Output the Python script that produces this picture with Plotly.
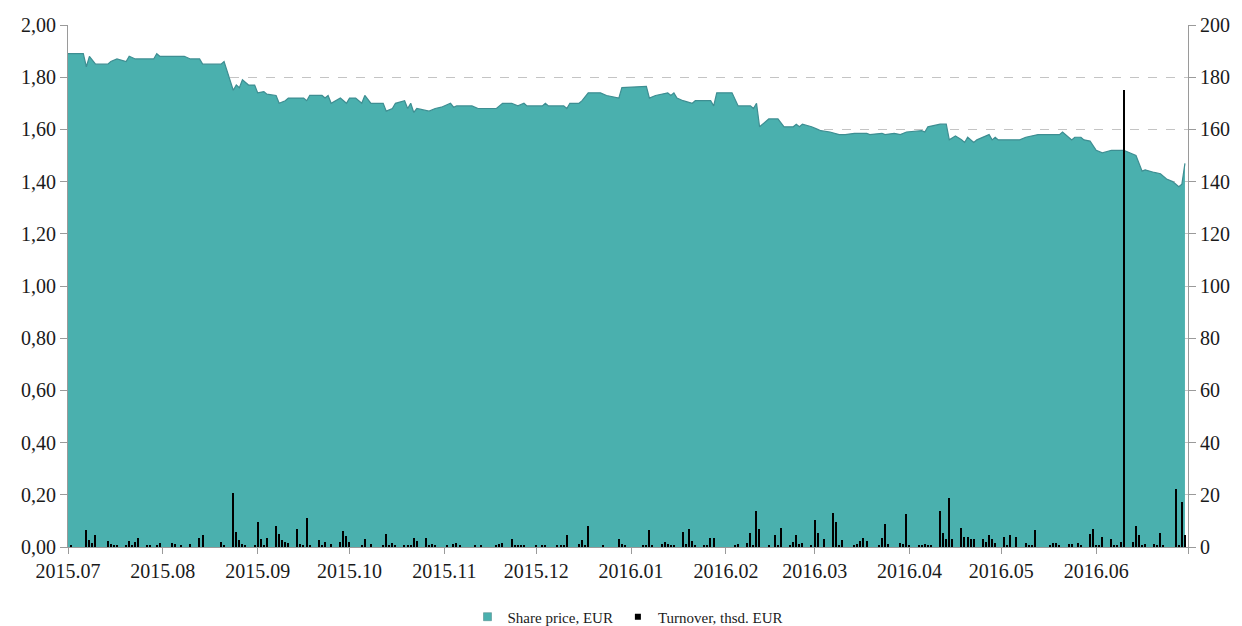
import plotly.graph_objects as go

# ---- Share price (EUR) ----
price_dates = [
    "2015-07-01", "2015-07-06", "2015-07-07", "2015-07-08", "2015-07-10", "2015-07-14", "2015-07-15",
    "2015-07-17", "2015-07-20", "2015-07-21", "2015-07-23", "2015-07-29", "2015-07-30", "2015-07-31",
    "2015-08-08", "2015-08-10", "2015-08-13", "2015-08-14", "2015-08-20", "2015-08-21", "2015-08-24",
    "2015-08-25", "2015-08-26", "2015-08-27", "2015-08-29", "2015-08-31", "2015-09-01", "2015-09-03",
    "2015-09-04", "2015-09-07", "2015-09-08", "2015-09-10", "2015-09-11", "2015-09-16", "2015-09-17",
    "2015-09-18", "2015-09-22", "2015-09-23", "2015-09-24", "2015-09-25", "2015-09-28", "2015-09-30",
    "2015-10-01", "2015-10-03", "2015-10-05", "2015-10-06", "2015-10-08", "2015-10-12", "2015-10-13",
    "2015-10-15", "2015-10-16", "2015-10-19", "2015-10-20", "2015-10-21", "2015-10-22", "2015-10-23",
    "2015-10-27", "2015-10-29", "2015-10-31", "2015-11-03", "2015-11-04", "2015-11-05", "2015-11-10",
    "2015-11-12", "2015-11-18", "2015-11-20", "2015-11-23", "2015-11-25", "2015-11-27", "2015-11-28",
    "2015-12-03", "2015-12-04", "2015-12-05", "2015-12-10", "2015-12-11", "2015-12-12", "2015-12-15",
    "2015-12-16", "2015-12-18", "2015-12-22", "2015-12-24", "2015-12-28", "2015-12-29", "2016-01-06",
    "2016-01-07", "2016-01-09", "2016-01-13", "2016-01-14", "2016-01-15", "2016-01-16", "2016-01-18",
    "2016-01-21", "2016-01-22", "2016-01-27", "2016-01-28", "2016-01-29", "2016-02-03", "2016-02-05",
    "2016-02-09", "2016-02-10", "2016-02-11", "2016-02-12", "2016-02-15", "2016-02-18", "2016-02-20",
    "2016-02-23", "2016-02-24", "2016-02-25", "2016-02-26", "2016-02-29", "2016-03-02", "2016-03-03",
    "2016-03-06", "2016-03-09", "2016-03-11", "2016-03-14", "2016-03-18", "2016-03-19", "2016-03-23",
    "2016-03-24", "2016-03-27", "2016-03-29", "2016-03-31", "2016-04-05", "2016-04-06", "2016-04-07",
    "2016-04-11", "2016-04-13", "2016-04-14", "2016-04-16", "2016-04-18", "2016-04-19", "2016-04-20",
    "2016-04-22", "2016-04-23", "2016-04-25", "2016-04-27", "2016-04-28", "2016-04-29", "2016-04-30",
    "2016-05-07", "2016-05-09", "2016-05-13", "2016-05-20", "2016-05-21", "2016-05-24", "2016-05-25",
    "2016-05-27", "2016-05-28", "2016-05-30", "2016-06-01", "2016-06-03", "2016-06-06", "2016-06-10",
    "2016-06-12", "2016-06-14", "2016-06-16", "2016-06-17", "2016-06-20", "2016-06-22", "2016-06-24",
    "2016-06-26", "2016-06-28", "2016-06-29", "2016-06-30",
]
price_values = [
    1.89, 1.89, 1.84, 1.88, 1.85, 1.85, 1.86,
    1.87, 1.86, 1.88, 1.87, 1.87, 1.89, 1.88,
    1.88, 1.87, 1.87, 1.85, 1.85, 1.86, 1.75,
    1.77, 1.76, 1.79, 1.77, 1.77, 1.74, 1.745,
    1.735, 1.73, 1.70, 1.71, 1.72, 1.72, 1.71,
    1.73, 1.73, 1.72, 1.73, 1.70, 1.72, 1.70,
    1.72, 1.72, 1.70, 1.73, 1.70, 1.70, 1.67,
    1.68, 1.70, 1.71, 1.68, 1.70, 1.665, 1.68,
    1.67, 1.68, 1.685, 1.70, 1.685, 1.69, 1.69,
    1.68, 1.68, 1.70, 1.70, 1.69, 1.70, 1.69,
    1.69, 1.70, 1.69, 1.69, 1.68, 1.70, 1.70,
    1.71, 1.74, 1.74, 1.73, 1.72, 1.76, 1.765,
    1.72, 1.73, 1.74, 1.73, 1.74, 1.72, 1.71,
    1.70, 1.71, 1.71, 1.69, 1.74, 1.74, 1.69,
    1.69, 1.68, 1.70, 1.61, 1.64, 1.64, 1.61,
    1.61, 1.62, 1.61, 1.62, 1.61, 1.60, 1.595,
    1.59, 1.58, 1.58, 1.585, 1.585, 1.58, 1.585,
    1.58, 1.585, 1.58, 1.59, 1.595, 1.59, 1.61,
    1.62, 1.62, 1.56, 1.575, 1.56, 1.55, 1.57,
    1.55, 1.56, 1.57, 1.58, 1.56, 1.57, 1.56,
    1.56, 1.57, 1.58, 1.58, 1.59, 1.56, 1.57,
    1.57, 1.56, 1.555, 1.52, 1.51, 1.52, 1.52,
    1.51, 1.50, 1.44, 1.445, 1.435, 1.43, 1.41,
    1.40, 1.38, 1.39, 1.47,
]

# ---- Turnover (thsd. EUR) ----
turnover_dates = [
    "2015-07-02", "2015-07-07", "2015-07-08", "2015-07-09", "2015-07-10", "2015-07-14", "2015-07-15",
    "2015-07-16", "2015-07-17", "2015-07-20", "2015-07-21", "2015-07-22", "2015-07-23", "2015-07-24",
    "2015-07-27", "2015-07-28", "2015-07-30", "2015-07-31", "2015-08-04", "2015-08-05", "2015-08-07",
    "2015-08-10", "2015-08-13", "2015-08-14", "2015-08-20", "2015-08-21", "2015-08-24", "2015-08-25",
    "2015-08-26", "2015-08-27", "2015-08-28", "2015-08-31", "2015-09-01", "2015-09-02", "2015-09-03",
    "2015-09-04", "2015-09-07", "2015-09-08", "2015-09-09", "2015-09-10", "2015-09-11", "2015-09-14",
    "2015-09-15", "2015-09-16", "2015-09-17", "2015-09-18", "2015-09-21", "2015-09-22", "2015-09-23",
    "2015-09-25", "2015-09-28", "2015-09-29", "2015-09-30", "2015-10-01", "2015-10-05", "2015-10-06",
    "2015-10-08", "2015-10-12", "2015-10-13", "2015-10-14", "2015-10-15", "2015-10-16", "2015-10-19",
    "2015-10-20", "2015-10-21", "2015-10-22", "2015-10-23", "2015-10-26", "2015-10-27", "2015-10-28",
    "2015-10-29", "2015-11-02", "2015-11-04", "2015-11-05", "2015-11-06", "2015-11-11", "2015-11-13",
    "2015-11-18", "2015-11-19", "2015-11-20", "2015-11-23", "2015-11-24", "2015-11-25", "2015-11-26",
    "2015-11-27", "2015-12-01", "2015-12-03", "2015-12-04", "2015-12-08", "2015-12-09", "2015-12-10",
    "2015-12-11", "2015-12-15", "2015-12-16", "2015-12-17", "2015-12-18", "2015-12-23", "2015-12-28",
    "2015-12-29", "2015-12-30", "2016-01-05", "2016-01-06", "2016-01-07", "2016-01-08", "2016-01-11",
    "2016-01-12", "2016-01-13", "2016-01-14", "2016-01-15", "2016-01-18", "2016-01-19", "2016-01-20",
    "2016-01-21", "2016-01-22", "2016-01-25", "2016-01-26", "2016-01-27", "2016-01-28", "2016-02-04",
    "2016-02-05", "2016-02-08", "2016-02-09", "2016-02-10", "2016-02-11", "2016-02-12", "2016-02-15",
    "2016-02-17", "2016-02-18", "2016-02-19", "2016-02-22", "2016-02-23", "2016-02-24", "2016-02-25",
    "2016-02-26", "2016-02-29", "2016-03-01", "2016-03-02", "2016-03-04", "2016-03-07", "2016-03-08",
    "2016-03-09", "2016-03-10", "2016-03-14", "2016-03-15", "2016-03-16", "2016-03-17", "2016-03-18",
    "2016-03-22", "2016-03-23", "2016-03-24", "2016-03-25", "2016-03-29", "2016-03-30", "2016-03-31",
    "2016-04-01", "2016-04-04", "2016-04-05", "2016-04-06", "2016-04-07", "2016-04-08", "2016-04-11",
    "2016-04-12", "2016-04-13", "2016-04-14", "2016-04-15", "2016-04-18", "2016-04-19", "2016-04-20",
    "2016-04-21", "2016-04-22", "2016-04-25", "2016-04-26", "2016-04-27", "2016-04-28", "2016-04-29",
    "2016-05-02", "2016-05-03", "2016-05-04", "2016-05-06", "2016-05-09", "2016-05-10", "2016-05-11",
    "2016-05-12", "2016-05-17", "2016-05-18", "2016-05-19", "2016-05-20", "2016-05-23", "2016-05-24",
    "2016-05-26", "2016-05-27", "2016-05-30", "2016-05-31", "2016-06-01", "2016-06-02", "2016-06-03",
    "2016-06-06", "2016-06-07", "2016-06-08", "2016-06-09", "2016-06-10", "2016-06-13", "2016-06-14",
    "2016-06-15", "2016-06-16", "2016-06-17", "2016-06-20", "2016-06-21", "2016-06-22", "2016-06-23",
    "2016-06-27", "2016-06-28", "2016-06-29", "2016-06-30",
]
turnover_values = [
    0.5, 6.6, 2.5, 1.5, 4.5, 2.2, 1.1,
    0.9, 0.5, 0.5, 2.2, 0.9, 1.8, 3.4,
    0.5, 0.5, 0.5, 1.5, 1.5, 1.0, 0.5,
    1.0, 3.4, 4.5, 2.0, 0.5, 20.6, 5.9,
    2.5, 1.0, 0.8, 0.5, 9.4, 3.1, 0.5,
    3.4, 7.9, 5.0, 2.5, 1.8, 1.5, 6.9,
    1.0, 0.8, 11.3, 0.5, 2.5, 0.9, 1.8,
    1.0, 2.0, 6.0, 4.1, 1.8, 0.5, 3.1,
    1.0, 0.5, 5.0, 0.9, 1.5, 0.8, 0.5,
    0.5, 0.5, 3.4, 2.2, 3.4, 0.8, 1.1,
    0.8, 0.5, 1.0, 1.4, 0.5, 0.5, 0.5,
    0.5, 1.0, 1.4, 3.1, 0.5, 0.5, 0.5,
    0.5, 0.5, 0.5, 0.5, 0.5, 0.5, 0.5,
    4.5, 1.0, 2.5, 0.8, 7.9, 0.5, 3.1,
    1.0, 0.5, 0.5, 0.5, 6.4, 0.5, 1.0,
    1.8, 1.3, 0.9, 0.5, 5.9, 1.0, 6.9,
    2.4, 0.5, 0.5, 0.5, 3.4, 3.4, 0.5,
    1.0, 1.5, 5.4, 0.5, 13.8, 6.9, 0.5,
    4.5, 0.5, 7.3, 0.8, 1.8, 4.5, 1.1,
    1.5, 0.5, 10.4, 5.4, 3.1, 13.2, 9.4,
    0.5, 2.5, 0.8, 1.3, 2.4, 3.4, 2.3,
    0.5, 3.4, 8.9, 1.0, 1.5, 1.0, 12.7,
    0.5, 0.9, 0.8, 1.0, 0.8, 0.5, 13.9,
    5.4, 3.1, 18.7, 3.1, 7.3, 3.8, 3.8,
    3.1, 3.1, 3.1, 2.0, 4.5, 3.1, 1.5,
    3.8, 0.5, 4.5, 3.8, 1.5, 0.8, 0.5,
    6.4, 0.5, 1.5, 1.5, 0.5, 1.0, 1.0,
    1.5, 0.5, 5.0, 6.9, 0.5, 0.5, 3.8,
    3.1, 0.8, 0.5, 2.0, 175.0, 1.8, 7.9,
    4.5, 0.5, 1.0, 1.0, 0.8, 5.4, 0.5,
    22.2, 0.5, 17.2, 4.5,
]

# ---- Axis ticks ----
month_ticks = [
    "2015-07-01", "2015-08-01", "2015-09-01", "2015-10-01", "2015-11-01", "2015-12-01",
    "2016-01-01", "2016-02-01", "2016-03-01", "2016-04-01", "2016-05-01", "2016-06-01", "2016-07-01",
]
month_labels = [
    "2015.07", "2015.08", "2015.09", "2015.10", "2015.11", "2015.12",
    "2016.01", "2016.02", "2016.03", "2016.04", "2016.05", "2016.06", "",
]

FILL = "#4AB0AE"
EDGE = "#3E8E92"
AXIS = "#9a9a9a"
FONT = "Liberation Serif"

fig = go.Figure()
fig.add_trace(go.Scatter(
    x=price_dates, y=price_values, name="Share price, EUR",
    mode="lines", fill="tozeroy", fillcolor=FILL,
    line=dict(color=EDGE, width=1.2), showlegend=False, legendgroup="price",
))
fig.add_trace(go.Bar(
    x=turnover_dates, y=turnover_values, name="Turnover, thsd. EUR",
    yaxis="y2", marker=dict(color="#000000", line=dict(width=0)),
    width=0.42 * 86400000, showlegend=False, legendgroup="turnover",
))
# legend entries drawn as small squares, as in the original
fig.add_trace(go.Scatter(
    x=[None], y=[None], mode="markers", name="Share price, EUR", legendgroup="price",
    marker=dict(symbol="square", size=8, color=FILL, line=dict(color="#5a8f90", width=0.6)),
))
fig.add_trace(go.Scatter(
    x=[None], y=[None], mode="markers", name="Turnover, thsd. EUR", legendgroup="turnover",
    marker=dict(symbol="square", size=6, color="#000000"),
))

# page body adds an 8px offset; figure sized so the plot area lands at
# x 68..1188, y 25..547 of the window
fig.update_layout(
    width=1234, height=618,
    margin=dict(l=60, r=54, t=17, b=79, autoexpand=False),
    paper_bgcolor="white", plot_bgcolor="white",
    separators=",.",
    font=dict(family=FONT, size=20, color="#1a1a1a"),
    showlegend=True,
    legend=dict(
        orientation="h", x=0.5, xanchor="center", y=-0.134, yanchor="middle",
        font=dict(family=FONT, size=15, color="#1a1a1a"),
        itemwidth=30, tracegroupgap=0, bgcolor="rgba(0,0,0,0)",
    ),
    bargap=0,
    xaxis=dict(
        type="date", range=["2015-07-01", "2016-07-01"], automargin=False,
        tickmode="array", tickvals=month_ticks, ticktext=month_labels,
        showgrid=False, zeroline=False,
        showline=True, linecolor=AXIS, linewidth=1,
        ticks="outside", ticklen=6, tickcolor=AXIS,
    ),
    yaxis=dict(
        range=[0, 2], dtick=0.2, tick0=0, tickformat=".2f", automargin=False,
        showgrid=True, gridcolor="#c4c4c4", griddash="dash", gridwidth=1,
        zeroline=False, showline=True, linecolor=AXIS, linewidth=1,
        ticks="outside", ticklen=7, tickcolor=AXIS,
    ),
    yaxis2=dict(
        range=[0, 200], dtick=20, tick0=0, overlaying="y", side="right", automargin=False,
        showgrid=False, zeroline=False, showline=True, linecolor=AXIS, linewidth=1,
        ticks="outside", ticklen=7, tickcolor=AXIS,
    ),
)

fig.write_html("out.html")
